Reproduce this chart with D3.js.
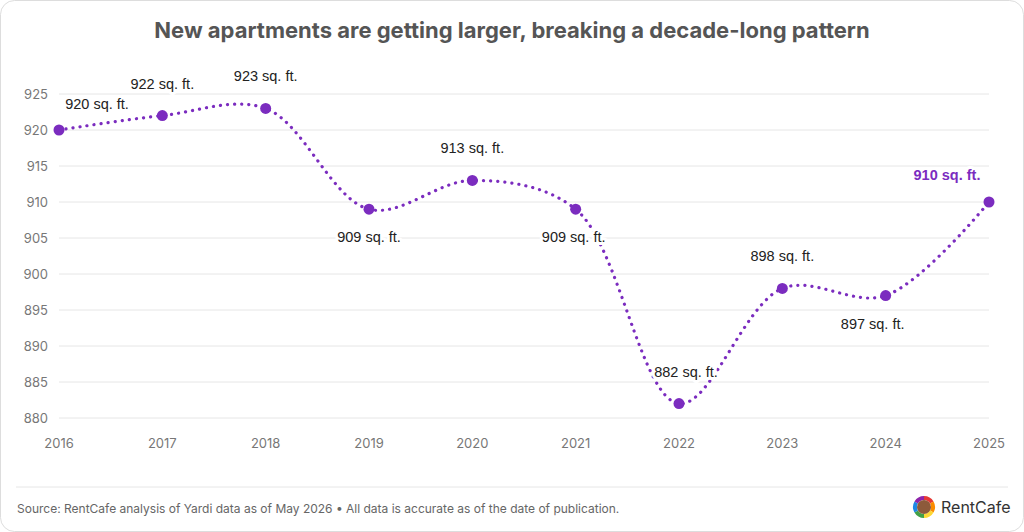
<!DOCTYPE html>
<html><head><meta charset="utf-8">
<script src="https://cdn.jsdelivr.net/npm/d3@7"></script>
<style>
body{margin:0;background:#fff;font-family:Inter,"Noto Sans",sans-serif;}
</style></head>
<body><div id="chart"></div>
<script>
const years = [2016, 2017, 2018, 2019, 2020, 2021, 2022, 2023, 2024, 2025];
const sizes = [920, 922, 923, 909, 913, 909, 882, 898, 897, 910];
// label placement: "a" above, "b" below
const labelPos = ["a", "a", "a", "b", "a", "b", "a", "a", "b", "a"];
const yTicks = [880, 885, 890, 895, 900, 905, 910, 915, 920, 925];

const width = 1024, height = 532;
const purple = "#7b2cbf";
const x = d3.scalePoint().domain(years).range([59, 989]);
const y = d3.scaleLinear().domain([880, 925]).range([418, 94]);
// horizontal nudges for labels
const labelDx = [38, 0, 0, 0, 0, -2, 7, 0, -13, -42];

const svg = d3.select("#chart").append("svg")
    .attr("width", width).attr("height", height);

svg.append("rect")
    .attr("x", 0.5).attr("y", 0.5).attr("width", width - 1).attr("height", height - 1)
    .attr("rx", 14).attr("fill", "#fff").attr("stroke", "#ddd");

svg.append("text")
    .attr("x", width / 2).attr("y", 38)
    .attr("text-anchor", "middle")
    .attr("font-size", 22).attr("font-weight", 700).attr("fill", "#555")
    .text("New apartments are getting larger, breaking a decade-long pattern");

// gridlines
svg.append("g").selectAll("line").data(yTicks).join("line")
    .attr("x1", 59).attr("x2", 989)
    .attr("y1", d => y(d)).attr("y2", d => y(d))
    .attr("stroke", "#e6e6e6");

svg.append("g").selectAll("text").data(yTicks).join("text")
    .attr("x", 48).attr("y", d => y(d) + 5)
    .attr("text-anchor", "end").attr("font-size", 13).attr("fill", "#777")
    .text(d => d);

svg.append("g").selectAll("text").data(years).join("text")
    .attr("x", d => x(d)).attr("y", 448)
    .attr("text-anchor", "middle").attr("font-size", 13).attr("fill", "#777")
    .text(d => d);

const pts = years.map((yr, i) => ({yr, v: sizes[i], pos: labelPos[i]}));

const line = d3.line()
    .x(d => x(d.yr)).y(d => y(d.v))
    .curve(d3.curveCatmullRom.alpha(0.5));

svg.append("path")
    .attr("d", line(pts))
    .attr("fill", "none").attr("stroke", purple)
    .attr("stroke-width", 3.2).attr("stroke-linecap", "round")
    .attr("stroke-dasharray", "0.1 7");

svg.append("g").selectAll("circle").data(pts).join("circle")
    .attr("cx", d => x(d.yr)).attr("cy", d => y(d.v))
    .attr("r", 5.5).attr("fill", purple);

const last = pts.length - 1;
svg.append("g").selectAll("text").data(pts).join("text")
    .attr("x", (d, i) => x(d.yr) + labelDx[i])
    .attr("y", (d, i) => i === 0 ? y(d.v) - 21 : i === last ? y(d.v) - 22 : d.pos === "a" ? y(d.v) - 27 : y(d.v) + 33)
    .attr("text-anchor", "middle").attr("font-size", 14.5)
    .attr("fill", (d, i) => i === last ? purple : "#222")
    .attr("font-weight", (d, i) => i === last ? 700 : 400)
    .attr("font-family", "Arial, 'Liberation Sans', sans-serif")
    .attr("stroke", "#fff").attr("stroke-width", 6).attr("stroke-linejoin", "round")
    .attr("paint-order", "stroke")
    .text(d => `${d.v} sq. ft.`);

// footer
svg.append("line").attr("x1", 16).attr("x2", 1008).attr("y1", 487).attr("y2", 487).attr("stroke", "#e6e6e6");
svg.append("text")
    .attr("x", 17).attr("y", 513).attr("font-size", 12).attr("fill", "#666")
    .text("Source: RentCafe analysis of Yardi data as of May 2026 \u2022 All data is accurate as of the date of publication.");

// logo
const logo = svg.append("g").attr("transform", "translate(924,507)");
const cols = ["#e53935", "#fb8c00", "#fdd835", "#43a047", "#1e88e5", "#8e24aa"];
const arc = d3.arc().innerRadius(7).outerRadius(11);
cols.forEach((c, i) => logo.append("path")
    .attr("d", arc({startAngle: i * Math.PI / 3, endAngle: (i + 1) * Math.PI / 3}))
    .attr("fill", c));
logo.append("circle").attr("r", 7).attr("fill", "#8d5a3b");
svg.append("text").attr("x", 941).attr("y", 513).attr("font-size", 16).attr("fill", "#333").text("RentCafe");
</script></body></html>
